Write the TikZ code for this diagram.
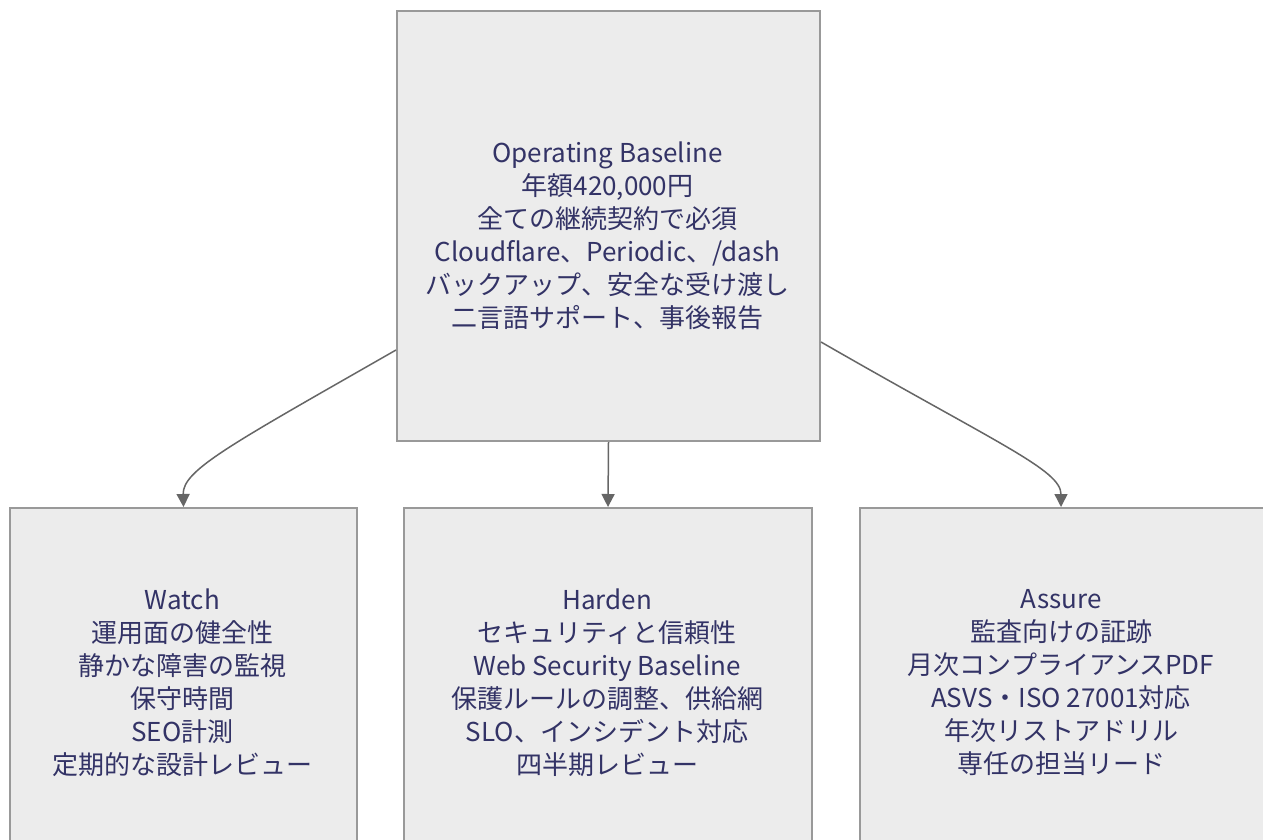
\documentclass[tikz,border=0pt]{standalone}
\usepackage{fontspec}
\setmainfont{Noto Sans CJK JP}
\usetikzlibrary{arrows.meta,calc}
\definecolor{boxfill}{HTML}{ECECEC}
\definecolor{boxline}{HTML}{999999}
\definecolor{edgecol}{HTML}{666666}
\definecolor{txt}{HTML}{333366}
\begin{document}
\begin{tikzpicture}[x=1pt,y=-1pt,
  box/.style={draw=boxline, fill=boxfill, line width=2pt, inner sep=0pt, anchor=north west},
  lbl/.style={text=txt, align=center, font=\fontsize{26}{33}\selectfont, inner sep=0pt},
  edge/.style={draw=edgecol, line width=1.5pt, -{Triangle[length=13pt,width=13pt]}}]
\useasboundingbox (0,0) rectangle (1263,840);
\clip (0,0) rectangle (1263,840);
\fill[white] (0,0) rectangle (1263,840);
\node[box, minimum width=423pt, minimum height=430pt] (top) at (396,10) {};
\node[box, minimum width=347pt, minimum height=370pt] (watch) at (9,507) {};
\node[box, minimum width=408pt, minimum height=370pt] (harden) at (403,507) {};
\node[box, minimum width=450pt, minimum height=370pt] (assure) at (859,507) {};
\node[lbl] (toptext) at (607.5,236) {Operating Baseline\\年額420,000円\\全ての継続契約で必須\\Cloudflare、Periodic、/dash\\バックアップ、安全な受け渡し\\二言語サポート、事後報告};
\node[lbl] (watchtext) at (182.5,683) {Watch\\運用面の健全性\\静かな障害の監視\\保守時間\\SEO計測\\定期的な設計レビュー};
\node[lbl] (hardentext) at (607,683) {Harden\\セキュリティと信頼性\\Web Security Baseline\\保護ルールの調整、供給網\\SLO、インシデント対応\\四半期レビュー};
\node[lbl] (assuretext) at (1061,683) {Assure\\監査向けの証跡\\月次コンプライアンスPDF\\ASVS・ISO 27001対応\\年次リストアドリル\\専任の担当リード};
\draw[edge] ($(top.north west)+(0,340)$) .. controls (230,445) and (182.5,470) .. (watch.north);
\draw[edge] (top.south) -- (harden.north);
\draw[edge] ($(top.north east)+(0,332)$) .. controls (1000,445) and (1061,470) .. ($(assure.north west)+(202,0)$);
\end{tikzpicture}
\end{document}
